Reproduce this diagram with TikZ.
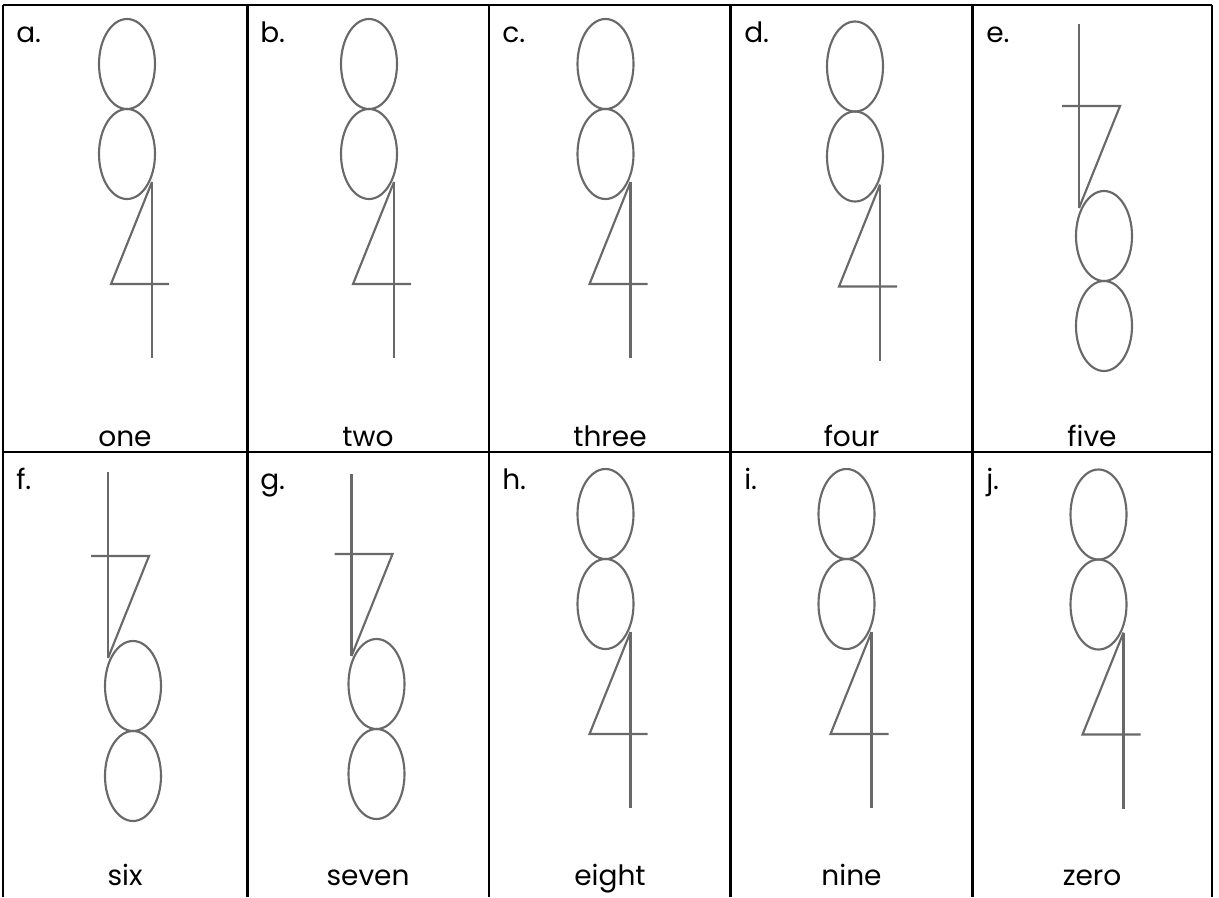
\documentclass[tikz,border=0pt]{standalone}
\usepackage{fontspec}
\setmainfont{Poppins}
\usepackage{tikz}
\definecolor{pencil}{RGB}{105,105,105}

\tikzset{
  gridline/.style={line width=1.6pt, black},
  stroke/.style={line width=1.6pt, pencil},
  letter/.style={anchor=base west, inner sep=0pt, font=\fontsize{21}{24}\selectfont},
  word/.style={anchor=base, inner sep=0pt, font=\fontsize{21}{24}\selectfont},
  pics/ninefour/.default=176,
  pics/ninefour/.style={code={
    \draw[stroke] (-25,-118) ellipse [x radius=28, y radius=45];
    \draw[stroke] (-25,-28) ellipse [x radius=28, y radius=45];
    \draw[stroke] (0,0) -- (0,#1);
    \draw[stroke] (0,0) -- (-41,102) -- (17,102);
  }}
}

\begin{document}
\begin{tikzpicture}[x=0.75pt, y=-0.75pt]
\useasboundingbox (0,0) rectangle (1219,897);

% Grid
\draw[gridline] (3,5) -- (1212,5);
\draw[gridline] (3,452) -- (1212,452);
\draw[gridline] (3,5) -- (3,897);
\draw[gridline] (247.5,5) -- (247.5,897);
\draw[gridline] (489,5) -- (489,897);
\draw[gridline] (730.5,5) -- (730.5,897);
\draw[gridline] (972.5,5) -- (972.5,897);
\draw[gridline] (1212,5) -- (1212,897);

% Figures, top row
\pic at (152,182) {ninefour};
\pic at (394,182) {ninefour};
\pic at (630.5,182) {ninefour};
\pic at (880,184.5) {ninefour};
\pic[rotate=180] at (1079,208) {ninefour=184};

% Figures, bottom row
\pic[rotate=180] at (108,658) {ninefour=186};
\pic[rotate=180] at (351.5,656) {ninefour=182};
\pic at (630.5,632) {ninefour};
\pic at (871.5,632) {ninefour};
\pic at (1123.5,632.5) {ninefour};

% Letters
\node[letter] (la) at (16,42) {a.};
\node[letter] (lb) at (260,42) {b.};
\node[letter] (lc) at (502,42) {c.};
\node[letter] (ld) at (744,42) {d.};
\node[letter] (le) at (986,42) {e.};
\node[letter] (lf) at (16,489) {f.};
\node[letter] (lg) at (260,489) {g.};
\node[letter] (lh) at (502,489) {h.};
\node[letter] (li) at (744,489) {i.};
\node[letter] (lj) at (986,489) {j.};

% Words
\node[word] (one) at (125,446) {one};
\node[word] (two) at (368,446) {two};
\node[word] (three) at (610,446) {three};
\node[word] (four) at (851.5,446) {four};
\node[word] (five) at (1092,446) {five};
\node[word] (six) at (125,885) {six};
\node[word] (seven) at (368,885) {seven};
\node[word] (eight) at (610,885) {eight};
\node[word] (nine) at (851.5,885) {nine};
\node[word] (zero) at (1092,885) {zero};
\end{tikzpicture}
\end{document}
